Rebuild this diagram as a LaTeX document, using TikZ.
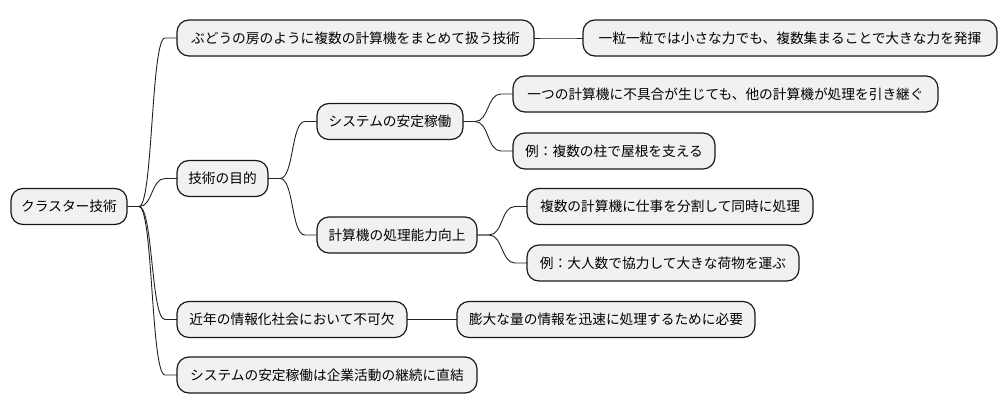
\documentclass[tikz,border=0pt]{standalone}
\usepackage{fontspec}
\setmainfont{Noto Sans CJK JP}
\definecolor{boxfill}{HTML}{F1F1F1}
\definecolor{boxline}{HTML}{181818}
\definecolor{linkcol}{HTML}{222222}
\tikzset{
  mmbox/.style={draw=boxline, fill=boxfill, line width=1.2pt, rounded corners=12pt,
    minimum height=36pt, inner sep=0pt, outer sep=0pt,
    font=\fontsize{13.7pt}{16pt}\selectfont, text=black},
  conn/.style={draw=linkcol, line width=0.9pt}
}
\newcommand\mmlink[2]{\draw[conn] (#1.east) -- ++(12,0) .. controls +(14,0) and +(-14,0) .. ([xshift=-12pt]#2.west) -- (#2.west);}
\begin{document}
\begin{tikzpicture}[x=1pt,y=-1pt]
\useasboundingbox (0,0) rectangle (1006,415);
\node[mmbox, minimum width=116pt] (root) at (69,206.5) {クラスター技術};
\node[mmbox, minimum width=357pt] (a1) at (355.5,38) {ぶどうの房のように複数の計算機をまとめて扱う技術};
\node[mmbox, minimum width=91pt] (a2) at (222.5,178.5) {技術の目的};
\node[mmbox, minimum width=230pt] (a3) at (292,319.5) {近年の情報化社会において不可欠};
\node[mmbox, minimum width=300pt] (a4) at (327,375) {システムの安定稼働は企業活動の継続に直結};
\node[mmbox, minimum width=414pt] (b1) at (790,38) {一粒一粒では小さな力でも、複数集まることで大きな力を発揮};
\node[mmbox, minimum width=146pt] (b2) at (390,121.5) {システムの安定稼働};
\node[mmbox, minimum width=160pt] (b3) at (397,235) {計算機の処理能力向上};
\node[mmbox, minimum width=298pt] (b4) at (606,319.5) {膨大な量の情報を迅速に処理するために必要};
\node[mmbox, minimum width=425pt] (c1) at (725.5,94) {一つの計算機に不具合が生じても、他の計算機が処理を引き継ぐ};
\node[mmbox, minimum width=202pt] (c2) at (614,151) {例：複数の柱で屋根を支える};
\node[mmbox, minimum width=286pt] (c3) at (670,206.5) {複数の計算機に仕事を分割して同時に処理};
\node[mmbox, minimum width=272pt] (c4) at (663,263) {例：大人数で協力して大きな荷物を運ぶ};
\mmlink{root}{a1}
\mmlink{root}{a2}
\mmlink{root}{a3}
\mmlink{root}{a4}
\mmlink{a1}{b1}
\mmlink{a2}{b2}
\mmlink{a2}{b3}
\mmlink{a3}{b4}
\mmlink{b2}{c1}
\mmlink{b2}{c2}
\mmlink{b3}{c3}
\mmlink{b3}{c4}
\end{tikzpicture}
\end{document}
